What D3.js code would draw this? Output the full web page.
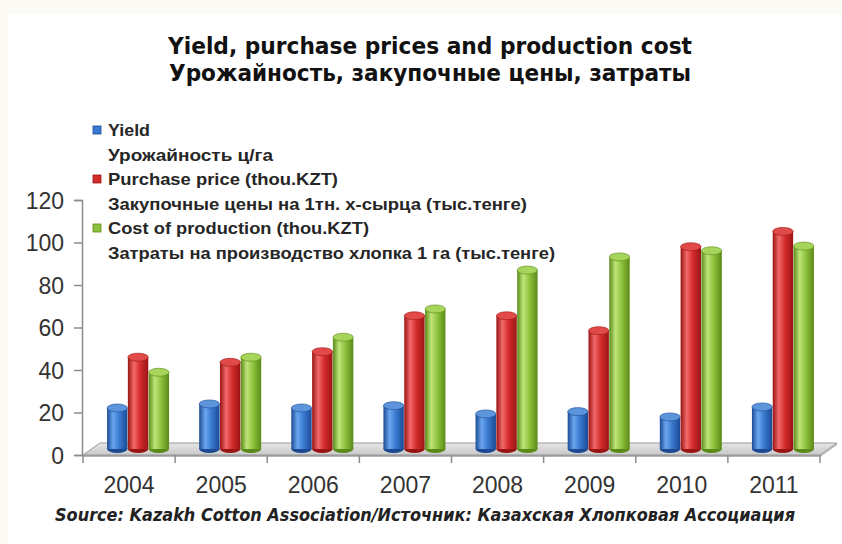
<!DOCTYPE html>
<html>
<head>
<meta charset="utf-8">
<script src="https://cdn.jsdelivr.net/npm/d3@7"></script>
<style>
  html, body { margin: 0; padding: 0; background: #fbfaf4; }
  svg { display: block; }
</style>
</head>
<body>
<svg id="chart" width="842" height="544"></svg>
<script>
// ---------------- data ----------------
const years = ["2004", "2005", "2006", "2007", "2008", "2009", "2010", "2011"];
const seriesKeys = ["yield", "price", "cost"];
const yieldValues = [19.3, 21.2, 19.3, 20.4, 16.5, 17.6, 15.1, 19.8];
const priceValues = [43.2, 40.8, 45.8, 62.7, 62.7, 55.7, 95.2, 102.4];
const costValues  = [36.1, 43.2, 52.6, 65.9, 84.2, 90.4, 93.3, 95.5];
const yTicks = [0, 20, 40, 60, 80, 100, 120];
const titleLines = ["Yield, purchase prices and production cost", "Урожайность, закупочные цены, затраты"];
const legendLabels = [
  ["Yield", "Урожайность ц/га"],
  ["Purchase price (thou.KZT)", "Закупочные цены на 1тн. х-сырца (тыс.тенге)"],
  ["Cost of production (thou.KZT)", "Затраты на производство хлопка 1 га (тыс.тенге)"]
];
const sourceText = "Source: Kazakh Cotton Association/Источник:  Казахская Хлопковая Ассоциация";

const seriesValues = { yield: yieldValues, price: priceValues, cost: costValues };
const colors = {
  yield: { edge: "#1b4a93", mid: "#3a7ad0", hi: "#6aa6ee", cap: "#5c95dc" },
  price: { edge: "#9a1414", mid: "#d42b2b", hi: "#f26a6a", cap: "#e24a4a" },
  cost:  { edge: "#5a8a18", mid: "#8fc23c", hi: "#bfe57a", cap: "#a7d45a" }
};

// ---------------- layout ----------------
const svg = d3.select("#chart");
const defs = svg.append("defs");

// white panel
svg.append("rect").attr("x", 8).attr("y", 14).attr("width", 834).attr("height", 530).attr("fill", "#ffffff");

const x = d3.scaleBand().domain(years).range([83, 820]).padding(0);
const inner = d3.scaleBand().domain(seriesKeys).range([0, 62]).paddingInner(0.02);
const y = d3.scaleLinear().domain([0, 120]).range([455, 200]);
const depthX = 17, depthY = 12;         // floor depth
const barDx = 9, barDy = 6;             // bar placement inside depth

// gradients for cylinders
seriesKeys.forEach(k => {
  const g = defs.append("linearGradient").attr("id", "g-" + k).attr("x1", "0").attr("x2", "1").attr("y1", "0").attr("y2", "0");
  g.append("stop").attr("offset", "0%").attr("stop-color", colors[k].edge);
  g.append("stop").attr("offset", "30%").attr("stop-color", colors[k].hi);
  g.append("stop").attr("offset", "60%").attr("stop-color", colors[k].mid);
  g.append("stop").attr("offset", "100%").attr("stop-color", colors[k].edge);
});
const floorGrad = defs.append("linearGradient").attr("id", "floorG").attr("x1", "0").attr("x2", "0").attr("y1", "0").attr("y2", "1");
floorGrad.append("stop").attr("offset", "0%").attr("stop-color", "#e6e6e6");
floorGrad.append("stop").attr("offset", "100%").attr("stop-color", "#c8c8c8");

// ---------------- title ----------------
svg.append("g").selectAll("text").data(titleLines).join("text")
  .attr("x", 430).attr("y", (d, i) => 54 + i * 27)
  .attr("text-anchor", "middle")
  .attr("font-family", "'DejaVu Sans Condensed', 'DejaVu Sans', sans-serif")
  .attr("font-weight", "bold").attr("font-size", 23)
  .attr("textLength", (d, i) => i === 0 ? 524 : 522).attr("lengthAdjust", "spacingAndGlyphs")
  .attr("fill", "#111").text(d => d);

// ---------------- floor ----------------
const x0 = x.range()[0], x1 = x.range()[1], yb = y(0);
svg.append("path")
  .attr("d", `M${x0},${yb} L${x0 + depthX},${yb - depthY} L${x1 + depthX},${yb - depthY} L${x1},${yb} Z`)
  .attr("fill", "url(#floorG)").attr("stroke", "#9a9a9a").attr("stroke-width", 1);
svg.append("path")
  .attr("d", `M${x0},${yb} L${x1},${yb} L${x1 + depthX},${yb - depthY} L${x1 + depthX},${yb - depthY + 2} L${x1},${yb + 2} L${x0},${yb + 2} Z`)
  .attr("fill", "#b5b5b5");

// ---------------- axes ----------------
const yAxis = d3.axisLeft(y).tickValues(yTicks).tickSize(8).tickPadding(10);
const gy = svg.append("g").attr("transform", `translate(${x0 - 1},0)`).call(yAxis);
gy.select(".domain").attr("stroke", "#8c8c8c").attr("stroke-width", 1.5);
gy.selectAll(".tick line").attr("stroke", "#8c8c8c").attr("stroke-width", 1.5);
gy.selectAll(".tick text").attr("font-family", "'Liberation Sans', Arial, sans-serif")
  .attr("font-size", 23).attr("fill", "#333").attr("dy", "0.36em");

const xAxis = d3.axisBottom(x).tickSize(0).tickPadding(24);
const gx = svg.append("g").attr("transform", `translate(0,${yb})`).call(xAxis);
gx.select(".domain").attr("stroke", "#9a9a9a").attr("stroke-width", 1.2);
gx.selectAll(".tick text").attr("font-family", "'Liberation Sans', Arial, sans-serif")
  .attr("font-size", 23).attr("fill", "#333").attr("dy", "0.6em");
// category boundary ticks
svg.append("g").selectAll("line").data(years.concat(["end"])).join("line")
  .attr("x1", (d, i) => x0 + i * x.bandwidth()).attr("x2", (d, i) => x0 + i * x.bandwidth())
  .attr("y1", yb).attr("y2", yb + 8).attr("stroke", "#8c8c8c").attr("stroke-width", 1.5);

// ---------------- bars (cylinders) ----------------
const bars = [];
years.forEach((yr, i) => {
  seriesKeys.forEach(k => bars.push({ year: yr, key: k, value: seriesValues[k][i] }));
});
const bw = inner.bandwidth();
const capRy = 4;
const gb = svg.append("g");
const barG = gb.selectAll("g.bar").data(bars).join("g").attr("class", "bar");
const bx = d => x(d.year) + x.bandwidth() / 2 + barDx - 31 + inner(d.key);
// bottom ellipse
barG.append("ellipse")
  .attr("cx", d => bx(d) + bw / 2).attr("cy", yb - barDy)
  .attr("rx", bw / 2).attr("ry", capRy)
  .attr("fill", d => colors[d.key].edge);
// body
barG.append("rect")
  .attr("x", d => bx(d)).attr("y", d => y(d.value) - barDy)
  .attr("width", bw).attr("height", d => y(0) - y(d.value))
  .attr("fill", d => "url(#g-" + d.key + ")");
// top cap
barG.append("ellipse")
  .attr("cx", d => bx(d) + bw / 2).attr("cy", d => y(d.value) - barDy)
  .attr("rx", bw / 2).attr("ry", capRy)
  .attr("fill", d => colors[d.key].cap)
  .attr("stroke", d => colors[d.key].edge).attr("stroke-width", 0.6);

// ---------------- legend ----------------
const legend = svg.append("g");
const legW = [[42, 165], [230, 419], [261, 447]];
legendLabels.forEach((lines, i) => {
  const base = 136 + i * 49;
  legend.append("rect").attr("x", 93).attr("y", base - 10).attr("width", 8).attr("height", 8)
    .attr("fill", colors[seriesKeys[i]].mid).attr("stroke", colors[seriesKeys[i]].edge).attr("stroke-width", 0.8);
  lines.forEach((t, j) => {
    legend.append("text").attr("x", 108).attr("y", base + j * 24.5)
      .attr("font-family", "'Liberation Sans', Arial, sans-serif").attr("font-weight", "bold")
      .attr("font-size", 17).attr("fill", "#262626")
      .attr("textLength", legW[i][j]).attr("lengthAdjust", "spacingAndGlyphs")
      .text(t);
  });
});

// ---------------- source ----------------
svg.append("text").attr("x", 425).attr("y", 521).attr("text-anchor", "middle")
  .attr("font-family", "'DejaVu Sans Condensed', 'DejaVu Sans', sans-serif")
  .attr("font-weight", "bold").attr("font-style", "italic").attr("font-size", 17)
  .attr("textLength", 740).attr("lengthAdjust", "spacingAndGlyphs")
  .attr("fill", "#222").text(sourceText);
</script>
</body>
</html>
